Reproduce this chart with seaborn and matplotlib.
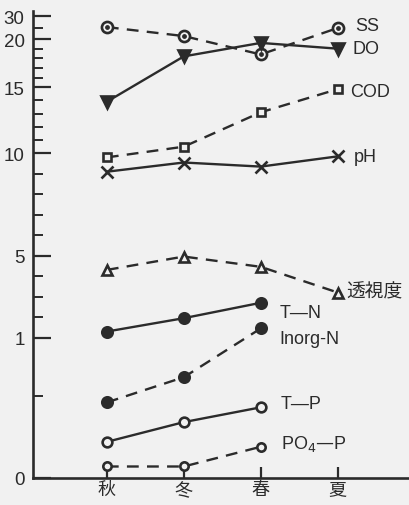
import numpy as np
import pandas as pd
import matplotlib
matplotlib.use("Agg")
import matplotlib.pyplot as plt
import seaborn as sns

# 季節
seasons = ["秋", "冬", "春", "夏"]

# 各項目の値
ss = [25.2, 21.3, 18.4, 24.8]
do = [13.9, 18.2, 19.6, 19.0]
cod = [9.8, 10.5, 13.1, 14.85]
ph = [9.1, 9.55, 9.35, 9.85]
toushido = [4.3, 4.95, 4.45, 3.2]
t_n = [1.3, 1.95, 2.7]
inorg_n = [0.46, 0.66, 1.45]
t_p = [0.22, 0.34, 0.43]
po4_p = [0.07, 0.07, 0.19]

yticks = [0, 1, 5, 10, 15, 20, 30]
yminor = [0.5, 2, 3, 4, 6, 7, 8, 9, 11, 12, 13, 14, 16, 17, 18, 19, 25]

# 縦軸は区間ごとに目盛の間隔が違う
brk_v = np.array([0, 0.5, 1, 5, 10, 15, 20, 30, 32])
brk_p = np.array([0, 82, 140, 222, 324, 390, 438, 461, 466])


def fwd(v):
    return np.interp(v, brk_v, brk_p)


def inv(p):
    return np.interp(p, brk_p, brk_v)


sns.set_style("ticks")
plt.rcParams["font.family"] = ["Liberation Sans", "Noto Sans CJK JP", "DejaVu Sans"]
ink = "#2b2b2b"
bg = "#f1f1f1"

fig = plt.figure(figsize=(4.1, 5.06), dpi=100, facecolor=bg)
ax = fig.add_axes([33 / 410, 27 / 506, 1 - 33 / 410, (479 - 12) / 506])
ax.set_facecolor(bg)
ax.set_yscale("function", functions=(fwd, inv))

series = [
    ("SS", ss, "--", "o", 8, bg),
    ("DO", do, "-", "v", 9, ink),
    ("COD", cod, "--", "s", 6, bg),
    ("pH", ph, "-", "x", 8, ink),
    ("透視度", toushido, "--", "^", 7, bg),
    ("T—N", t_n, "-", "o", 7.5, ink),
    ("Inorg-N", inorg_n, "--", "o", 7.5, ink),
    ("T—P", t_p, "-", "o", 7, bg),
    ("PO$_4$—P", po4_p, "--", "o", 6, bg),
]

label_off = {
    "SS": (18, 2), "DO": (15, 0), "COD": (12, -2), "pH": (16, 0),
    "透視度": (9, 1), "T—N": (19, -10), "Inorg-N": (19, -10),
    "T—P": (20, 4), "PO$_4$—P": (20, 4),
}

for name, vals, ls, mk, ms, fc in series:
    df = pd.DataFrame({"x": range(len(vals)), "y": vals})
    sns.lineplot(data=df, x="x", y="y", ax=ax, color=ink, linewidth=1.7,
                 linestyle=ls, marker=mk, markersize=ms, markerfacecolor=fc,
                 markeredgecolor=ink, markeredgewidth=1.9, zorder=3)
    if ls == "--":
        ax.lines[-1].set_dashes((5, 3.5))
    if name == "SS":
        ax.scatter(df["x"], df["y"], s=6, color=ink, zorder=4)
    dx, dy = label_off[name]
    ax.annotate(name, (len(vals) - 1, vals[-1]), xytext=(dx, dy),
                textcoords="offset pixels", ha="left", va="center",
                fontsize=13 if name != "透視度" else 13.5, color=ink)

ax.set_xlim(-0.96, 3.94)
ax.set_ylim(0, 32)
ax.set_xticks(range(len(seasons)))
ax.set_xticklabels(seasons, fontsize=13, color=ink)
ax.set_yticks(yticks)
ax.set_yticklabels([str(t) for t in yticks], fontsize=13.5, color=ink)
ax.set_yticks(yminor, minor=True)
ax.tick_params(axis="y", which="major", direction="in", length=13, width=1.6, pad=6, colors=ink)
ax.tick_params(axis="y", which="minor", direction="in", length=7, width=1.4, colors=ink)
ax.tick_params(axis="x", which="major", direction="in", length=8, width=1.6, pad=2, colors=ink)
ax.tick_params(axis="x", which="minor", bottom=False)
for s in ["top", "right"]:
    ax.spines[s].set_visible(False)
for s in ["left", "bottom"]:
    ax.spines[s].set_linewidth(1.9)
    ax.spines[s].set_color(ink)
ax.set_xlabel("")
ax.set_ylabel("")

fig.savefig("out.png", dpi=100, facecolor=bg)
